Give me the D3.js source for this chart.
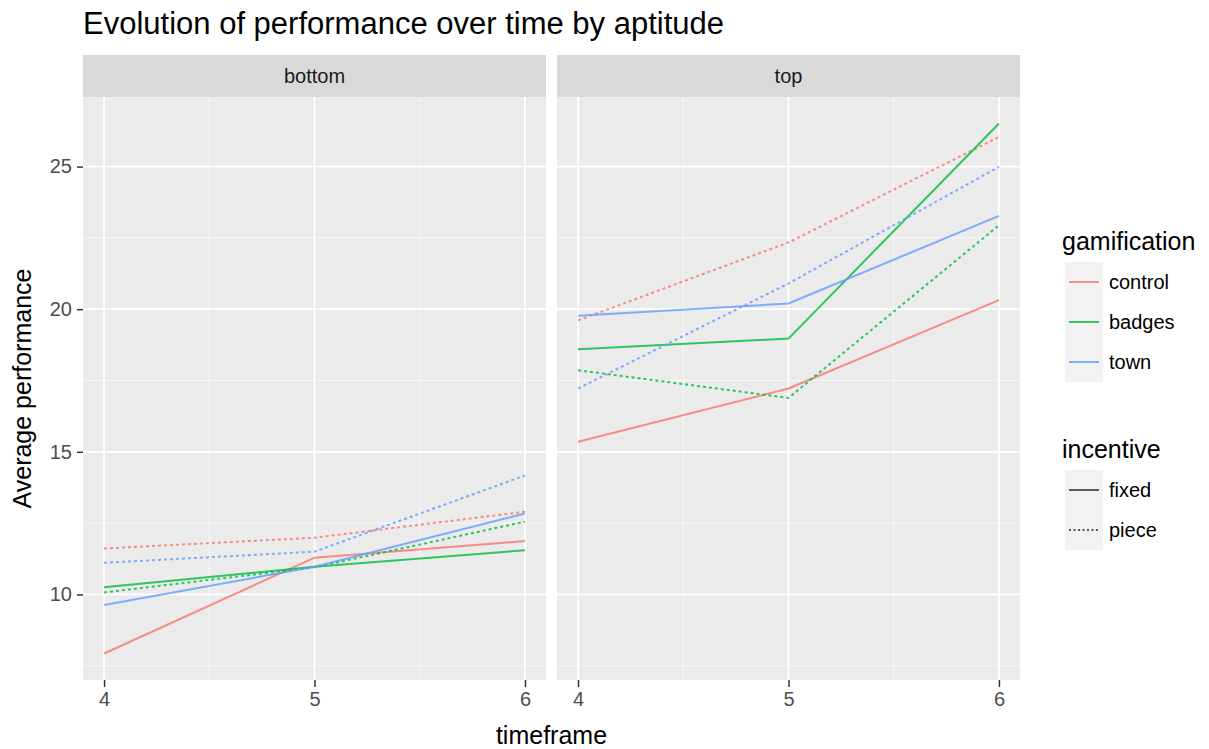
<!DOCTYPE html>
<html>
<head>
<meta charset="utf-8">
<script src="https://cdn.jsdelivr.net/npm/d3@7"></script>
<style>
  body { margin: 0; background: #fff; }
  svg { display: block; font-family: "Liberation Sans", Arial, sans-serif; }
</style>
</head>
<body>
<div id="chart"></div>
<script>
// data
const timeframes = [4, 5, 6];
const aptitudes = ['bottom', 'top'];
const gamifications = ['control', 'badges', 'town'];
const incentives = ['fixed', 'piece'];
const yTicks = [10, 15, 20, 25];

const bottomControlFixed = [7.93, 11.29, 11.87];
const bottomControlPiece = [11.61, 11.99, 12.90];
const bottomBadgesFixed = [10.25, 10.97, 11.55];
const bottomBadgesPiece = [10.07, 10.95, 12.55];
const bottomTownFixed = [9.63, 10.97, 12.84];
const bottomTownPiece = [11.11, 11.50, 14.17];

const topControlFixed = [15.35, 17.22, 20.32];
const topControlPiece = [19.61, 22.34, 26.04];
const topBadgesFixed = [18.60, 18.97, 26.51];
const topBadgesPiece = [17.86, 16.89, 22.94];
const topTownFixed = [19.77, 20.20, 23.27];
const topTownPiece = [17.22, 20.90, 24.99];

const seriesList = [
    {aptitude: 'bottom', gamification: 'control', incentive: 'fixed', values: bottomControlFixed},
    {aptitude: 'bottom', gamification: 'control', incentive: 'piece', values: bottomControlPiece},
    {aptitude: 'bottom', gamification: 'badges', incentive: 'fixed', values: bottomBadgesFixed},
    {aptitude: 'bottom', gamification: 'badges', incentive: 'piece', values: bottomBadgesPiece},
    {aptitude: 'bottom', gamification: 'town', incentive: 'fixed', values: bottomTownFixed},
    {aptitude: 'bottom', gamification: 'town', incentive: 'piece', values: bottomTownPiece},
    {aptitude: 'top', gamification: 'control', incentive: 'fixed', values: topControlFixed},
    {aptitude: 'top', gamification: 'control', incentive: 'piece', values: topControlPiece},
    {aptitude: 'top', gamification: 'badges', incentive: 'fixed', values: topBadgesFixed},
    {aptitude: 'top', gamification: 'badges', incentive: 'piece', values: topBadgesPiece},
    {aptitude: 'top', gamification: 'town', incentive: 'fixed', values: topTownFixed},
    {aptitude: 'top', gamification: 'town', incentive: 'piece', values: topTownPiece}
];

const W = 1209, H = 749;
const panelTop = 97, panelBottom = 680;
const stripTop = 55;
const panelLeft = [83, 557];
const panelWidth = 463;
const FONT = '"Liberation Sans", Arial, sans-serif';

const svg = d3.select('#chart').append('svg')
    .attr('width', W)
    .attr('height', H);

const color = d3.scaleOrdinal()
    .domain(gamifications)
    .range(['#F8766D', '#00BA38', '#619CFF']);

const dash = d3.scaleOrdinal()
    .domain(incentives)
    .range(['none', '3,3']);

// ggplot style 5% expansion
const allValues = seriesList.flatMap(s => s.values);
const yMin = d3.min(allValues), yMax = d3.max(allValues);
const yPad = (yMax - yMin) * 0.05;
const y = d3.scaleLinear()
    .domain([yMin - yPad, yMax + yPad])
    .range([panelBottom, panelTop]);

const xPad = (d3.max(timeframes) - d3.min(timeframes)) * 0.05;

const line = (x) => d3.line()
    .x((d, i) => x(timeframes[i]))
    .y(d => y(d));

svg.append('text')
    .attr('x', 83)
    .attr('y', 34)
    .attr('font-size', 31)
    .attr('fill', '#000')
    .text('Evolution of performance over time by aptitude');

aptitudes.forEach((apt, pi) => {
    const left = panelLeft[pi];
    const x = d3.scaleLinear()
        .domain([d3.min(timeframes) - xPad, d3.max(timeframes) + xPad])
        .range([left, left + panelWidth]);

    const g = svg.append('g');

    // strip
    g.append('rect')
        .attr('x', left).attr('y', stripTop)
        .attr('width', panelWidth).attr('height', panelTop - stripTop)
        .attr('fill', '#D9D9D9');
    g.append('text')
        .attr('x', left + panelWidth / 2)
        .attr('y', (stripTop + panelTop) / 2 + 7)
        .attr('text-anchor', 'middle')
        .attr('font-size', 20)
        .attr('fill', '#1A1A1A')
        .text(apt);

    // panel
    g.append('rect')
        .attr('x', left).attr('y', panelTop)
        .attr('width', panelWidth).attr('height', panelBottom - panelTop)
        .attr('fill', '#EBEBEB');

    // minor grid
    const yMinor = yTicks.map(t => t - 2.5).concat([yTicks[yTicks.length - 1] + 2.5])
        .filter(v => v >= y.domain()[0] && v <= y.domain()[1]);
    g.selectAll('.ymin').data(yMinor).join('line')
        .attr('x1', left).attr('x2', left + panelWidth)
        .attr('y1', d => y(d)).attr('y2', d => y(d))
        .attr('stroke', '#F7F7F7').attr('stroke-width', 1);
    g.selectAll('.xmin').data([4.5, 5.5]).join('line')
        .attr('y1', panelTop).attr('y2', panelBottom)
        .attr('x1', d => x(d)).attr('x2', d => x(d))
        .attr('stroke', '#F7F7F7').attr('stroke-width', 1);

    // major grid
    g.selectAll('.ymaj').data(yTicks).join('line')
        .attr('x1', left).attr('x2', left + panelWidth)
        .attr('y1', d => y(d)).attr('y2', d => y(d))
        .attr('stroke', '#fff').attr('stroke-width', 1.8);
    g.selectAll('.xmaj').data(timeframes).join('line')
        .attr('y1', panelTop).attr('y2', panelBottom)
        .attr('x1', d => x(d)).attr('x2', d => x(d))
        .attr('stroke', '#fff').attr('stroke-width', 1.8);

    // x axis
    const xAxis = g.append('g')
        .attr('transform', `translate(0,${panelBottom})`)
        .call(d3.axisBottom(x).tickValues(timeframes).tickSize(7).tickPadding(5).tickFormat(d3.format('d')));
    xAxis.select('.domain').remove();
    xAxis.selectAll('line').attr('stroke', '#333333').attr('stroke-width', 1.5);
    xAxis.selectAll('text').attr('font-size', 20).attr('fill', '#4D4D4D')
        .attr('font-family', FONT);

    if (pi === 0) {
        const yAxis = g.append('g')
            .attr('transform', `translate(${left},0)`)
            .call(d3.axisLeft(y).tickValues(yTicks).tickSize(6).tickPadding(5));
        yAxis.select('.domain').remove();
        yAxis.selectAll('line').attr('stroke', '#333333').attr('stroke-width', 1.5);
        yAxis.selectAll('text').attr('font-size', 20).attr('fill', '#4D4D4D')
            .attr('font-family', FONT);
    }

    // lines
    const panelSeries = seriesList.filter(s => s.aptitude === apt);
    g.selectAll('.series').data(panelSeries).join('path')
        .attr('d', d => line(x)(d.values))
        .attr('fill', 'none')
        .attr('stroke', d => color(d.gamification))
        .attr('stroke-opacity', 0.8)
        .attr('stroke-width', 2)
        .attr('stroke-dasharray', d => dash(d.incentive));
});

// axis titles
svg.append('text')
    .attr('x', (panelLeft[0] + panelLeft[1] + panelWidth) / 2)
    .attr('y', 744)
    .attr('text-anchor', 'middle')
    .attr('font-size', 25)
    .attr('fill', '#000')
    .text('timeframe');

svg.append('text')
    .attr('transform', `translate(31,${(panelTop + panelBottom) / 2}) rotate(-90)`)
    .attr('text-anchor', 'middle')
    .attr('font-size', 25)
    .attr('fill', '#000')
    .text('Average performance');

// legends
const legendX = 1063;
function drawLegend(title, baseline, items, strokeFn, dashFn) {
    const lg = svg.append('g');
    lg.append('text')
        .attr('x', legendX - 1).attr('y', baseline)
        .attr('font-size', 25).attr('fill', '#000')
        .text(title);
    const keyTop = baseline + 12;
    items.forEach((item, i) => {
        const ky = keyTop + i * 40;
        lg.append('rect')
            .attr('x', legendX + 2).attr('y', ky)
            .attr('width', 38).attr('height', 40)
            .attr('fill', '#F2F2F2');
        lg.append('line')
            .attr('x1', legendX + 6).attr('x2', legendX + 36)
            .attr('y1', ky + 20).attr('y2', ky + 20)
            .attr('stroke', strokeFn(item))
            .attr('stroke-opacity', 0.8)
            .attr('stroke-width', 2)
            .attr('stroke-dasharray', dashFn(item) === 'none' ? 'none' : '2,2.5');
        lg.append('text')
            .attr('x', legendX + 46).attr('y', ky + 27)
            .attr('font-size', 20).attr('fill', '#000')
            .text(item);
    });
}
drawLegend('gamification', 250, gamifications, d => color(d), () => 'none');
drawLegend('incentive', 458, incentives, () => '#333333', d => dash(d));
</script>
</body>
</html>
